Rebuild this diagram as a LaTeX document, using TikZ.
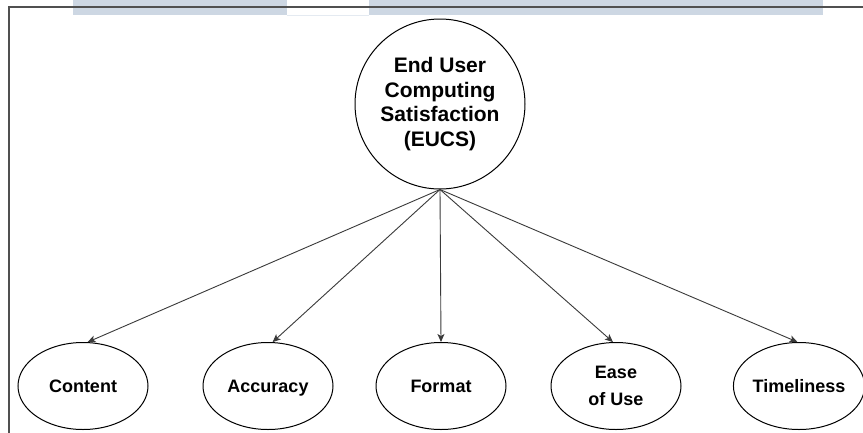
\documentclass[tikz,border=0pt]{standalone}
\usepackage{fontspec}
\setmainfont{Liberation Sans}
\usetikzlibrary{shapes.geometric,arrows.meta}

\definecolor{bandblue}{HTML}{CDD7E3}
\definecolor{bandedge}{HTML}{E4EAF1}
\definecolor{framegrey}{HTML}{505050}
\definecolor{linkgrey}{HTML}{3A3A3A}

\tikzset{
  topic/.style={circle, draw=black, line width=1pt, minimum size=170pt,
    inner sep=0pt, align=center, font=\fontsize{21}{24.5}\selectfont\bfseries},
  factor/.style={ellipse, draw=black, line width=1pt, minimum width=130pt,
    minimum height=87pt, inner sep=0pt, align=center,
    text height=13pt, text depth=0pt,
    font=\fontsize{18}{27.5}\selectfont\bfseries},
  twoline/.style={text height={}, text depth={}},
  link/.style={draw=linkgrey, line width=0.9pt,
    -{Stealth[length=8pt,width=7pt,inset=2pt]}},
  band/.style={fill=bandblue, draw=none},
  framebox/.style={draw=framegrey, line width=1.4pt}
}

\begin{document}
\begin{tikzpicture}[x=1pt, y=-1pt]
  \clip (0,0) rectangle (863,432);
  \fill[white] (0,0) rectangle (863,432);

  % banner strip along the top edge
  \path[band] (73,0) rectangle (287,15);
  \path[band] (369,0) rectangle (823,15);
  \draw[bandedge, line width=0.8pt] (287,15) -- (369,15);

  % outer frame
  \draw[framebox] (9,450) -- (9,7) -- (880,7);

  % central construct
  \node[topic] (eucs) at (440,104) {End User\\Computing\\Satisfaction\\(EUCS)};

  % dimensions
  \node[factor] (content)    at (83,386)  {Content};
  \node[factor] (accuracy)   at (268,386) {Accuracy};
  \node[factor] (format)     at (441,386) {Format};
  \node[factor, twoline] (ease) at (616,386) {Ease\\of Use};
  \node[factor] (timeliness) at (799,386) {Timeliness};

  % links from the construct to each dimension
  \draw[link] (eucs.south) -- (content.84);
  \draw[link] (eucs.south) -- (accuracy.84);
  \draw[link] (eucs.south) -- (format.north);
  \draw[link] (eucs.south) -- (ease.94);
  \draw[link] (eucs.south) -- (timeliness.92);
\end{tikzpicture}
\end{document}
